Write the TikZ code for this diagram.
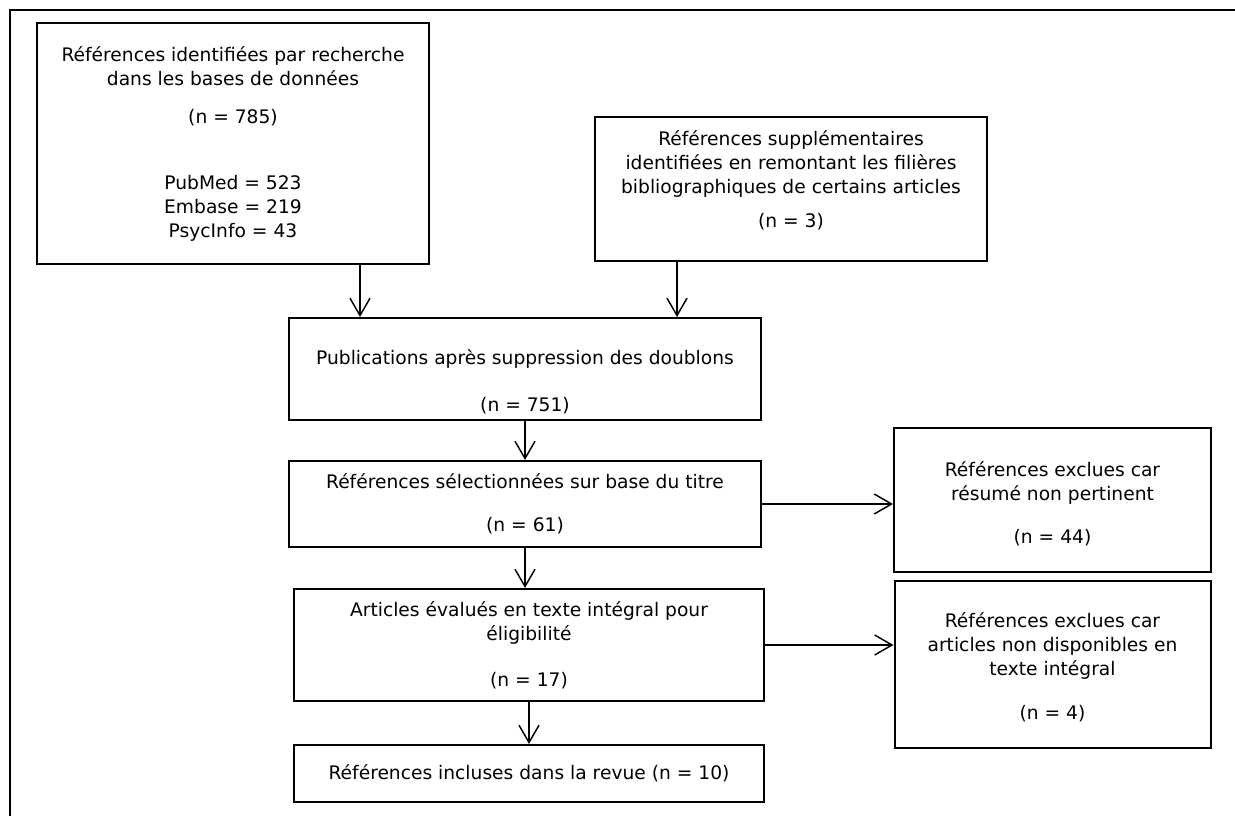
\documentclass[tikz,border=0pt]{standalone}
\usepackage{fontspec}
\setmainfont{DejaVu Sans}
\usetikzlibrary{arrows.meta, positioning}

\newdimen\px
\px=0.75pt

\tikzset{
  box/.style={draw, line width=1.5pt, align=center, inner sep=0pt,
    font=\fontsize{14pt}{18pt}\selectfont},
  arr/.style={line width=1.1pt, -{Straight Barb[length=13pt, width=15pt]}}
}

\begin{document}
\begin{tikzpicture}[x=0.75pt, y=-0.75pt]
  \useasboundingbox (0,0) rectangle (1235,816);
  \draw[line width=2pt] (1235,10) -- (10,10) -- (10,816);

  % identification
  \node[box, minimum width=392\px, minimum height=241\px] (search) at (233,143.5)
    {Références identifiées par recherche\\dans les bases de données\\[10.5pt]
     (n = 785)\\[31.5pt]PubMed = 523\\Embase = 219\\PsycInfo = 43};
  \node[box, minimum width=392\px, minimum height=144\px] (extra) at (791,189)
    {Références supplémentaires\\identifiées en remontant les filières\\
     bibliographiques de certains articles\\[7.5pt](n = 3)\\[-8pt]\strut};

  % screening
  \node[box, minimum width=472\px, minimum height=102\px] (dedup) at (525,369)
    {\strut\\Publications après suppression des doublons\\[17.25pt](n = 751)};
  \node[box, minimum width=472\px, minimum height=86\px] (title) at (525,504)
    {Références sélectionnées sur base du titre\\[14.25pt](n = 61)};
  \node[box, minimum width=317\px, minimum height=144\px] (excl1) at (1052.5,500)
    {\strut\\[-14pt]Références exclues car\\résumé non pertinent\\[14.25pt](n = 44)};

  % eligibility
  \node[box, minimum width=470\px, minimum height=112\px] (full) at (529,645)
    {Articles évalués en texte intégral pour\\éligibilité\\[16.5pt](n = 17)};
  \node[box, minimum width=316\px, minimum height=167\px] (excl2) at (1052.5,664.5)
    {\strut\\[-15.5pt]Références exclues car\\articles non disponibles en\\texte intégral\\[15pt](n = 4)};

  % included
  \node[box, minimum width=470\px, minimum height=57\px] (incl) at (529,773.5)
    {Références incluses dans la revue (n = 10)};

  \coordinate (s1) at ([xshift=-70\px]search.south east);
  \coordinate (s2) at ([xshift=83\px]extra.south west);
  \draw[arr] (s1) -- (s1 |- dedup.north);
  \draw[arr] (s2) -- (s2 |- dedup.north);
  \draw[arr] (dedup.south) -- (dedup.south |- title.north);
  \draw[arr] (title.south) -- (title.south |- full.north);
  \draw[arr] (full.south) -- (full.south |- incl.north);
  \draw[arr] (title.east) -- (title.east -| excl1.west);
  \draw[arr] (full.east) -- (full.east -| excl2.west);
\end{tikzpicture}
\end{document}
